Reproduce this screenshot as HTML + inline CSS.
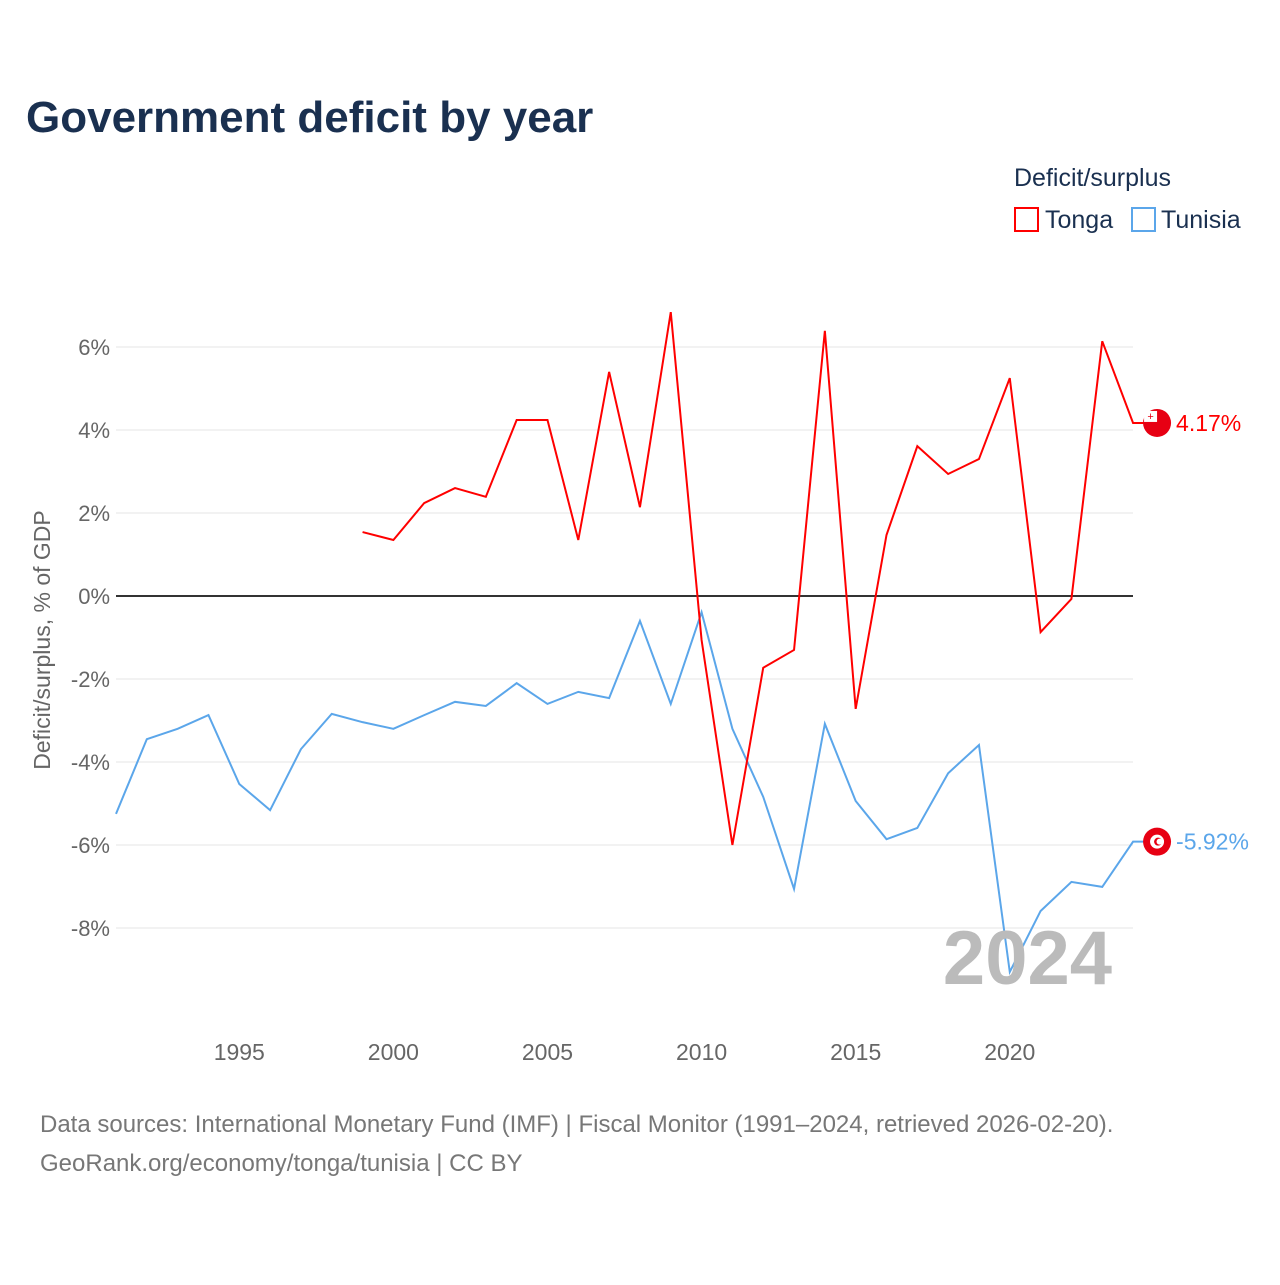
<!DOCTYPE html>
<html><head><meta charset="utf-8"><style>
body{margin:0;background:#fff;font-family:"Liberation Sans",sans-serif;}
svg text{font-family:"Liberation Sans",sans-serif;}
</style></head><body>
<svg id="chart" width="1280" height="1280" xmlns="http://www.w3.org/2000/svg">
<text x="26" y="132" font-size="44" font-weight="bold" fill="#1a3050">Government deficit by year</text>
<text x="1014" y="186" font-size="25" fill="#1a3050">Deficit/surplus</text>
<g><rect x="1015" y="208" width="23" height="23" fill="none" stroke="#f00" stroke-width="2"/><text x="1045" y="228" font-size="25" fill="#1a3050">Tonga</text></g>
<g><rect x="1132" y="208" width="23" height="23" fill="none" stroke="#5ba6ea" stroke-width="2"/><text x="1161" y="228" font-size="25" fill="#1a3050">Tunisia</text></g>
<text transform="translate(50,640) rotate(-90)" text-anchor="middle" font-size="23" fill="#666">Deficit/surplus, % of GDP</text>
<g id="grid"></g><g id="series"></g>
<text x="1112" y="984" text-anchor="end" font-size="76" font-weight="bold" fill="#bbb">2024</text>
<text x="40" y="1132" font-size="24" fill="#777">Data sources: International Monetary Fund (IMF) | Fiscal Monitor (1991–2024, retrieved 2026-02-20).</text>
<text x="40" y="1171" font-size="24" fill="#777">GeoRank.org/economy/tonga/tunisia | CC BY</text>
</svg>
<script>
const yTicks=[6,4,2,0,-2,-4,-6,-8];
const xTicks=[1995,2000,2005,2010,2015,2020];
const tungaYears=[1999,2000,2001,2002,2003,2004,2005,2006,2007,2008,2009,2010,2011,2012,2013,2014,2015,2016,2017,2018,2019,2020,2021,2022,2023,2024];
const tongaValues=[1.54,1.35,2.24,2.6,2.39,4.24,4.24,1.35,5.4,2.14,6.84,-1.06,-6.0,-1.73,-1.3,6.39,-2.72,1.47,3.61,2.94,3.3,5.25,-0.87,-0.07,6.14,4.17];
const tunisiaYears=[1991,1992,1993,1994,1995,1996,1997,1998,1999,2000,2001,2002,2003,2004,2005,2006,2007,2008,2009,2010,2011,2012,2013,2014,2015,2016,2017,2018,2019,2020,2021,2022,2023,2024];
const tunisiaValues=[-5.25,-3.45,-3.2,-2.87,-4.53,-5.16,-3.69,-2.84,-3.04,-3.2,-2.87,-2.55,-2.65,-2.1,-2.6,-2.31,-2.46,-0.6,-2.6,-0.39,-3.2,-4.84,-7.06,-3.08,-4.94,-5.86,-5.59,-4.27,-3.59,-9.06,-7.59,-6.89,-7.01,-5.92];
const X=y=>116+(y-1991)*30.82;
const Y=v=>596-v*41.5;
const NS="http://www.w3.org/2000/svg";
const grid=document.getElementById('grid'),ser=document.getElementById('series');
function mk(t,a,p){const e=document.createElementNS(NS,t);for(const k in a)e.setAttribute(k,a[k]);p.appendChild(e);return e;}
yTicks.forEach(v=>{
 const l=mk('line',{x1:116,x2:1133,y1:Y(v),y2:Y(v),stroke:v===0?'#333':'#e6e6e6','stroke-width':v===0?2:1},grid);
 
 
 const t=mk('text',{x:110,y:Y(v)+8,'text-anchor':'end','font-size':22,fill:'#666'},grid);
 t.textContent=v+'%';
 
 
});
xTicks.forEach(y=>{
 const t=mk('text',{x:X(y),y:1060,'text-anchor':'middle','font-size':23,fill:'#666'},grid);
 t.textContent=y;
 
 
});
function line(years,vals,col,name,label,flagInner){
 const lv=vals[vals.length-1],ex=X(years[years.length-1]),lx=ex+24,ly=Y(lv);
 const pts=years.map((y,i)=>X(y)+','+Y(vals[i]));
 pts.push((ex+12)+','+ly);
 const p=mk('polyline',{points:pts.join(' '),fill:'none',stroke:col,'stroke-width':2},ser);
 
 
 const c=mk('circle',{cx:lx,cy:ly,r:14,fill:'#e70013'},ser);
 
 
 if(flagInner==='tonga'){mk('rect',{x:lx-13,y:ly-12,width:13,height:11,fill:'#fff'},ser);mk('text',{x:lx-6.5,y:ly-3,'text-anchor':'middle','font-size':11,fill:'#e70013'},ser).textContent='+';}
 else{mk('circle',{cx:lx,cy:ly,r:7,fill:'#fff'},ser);mk('circle',{cx:lx+1,cy:ly,r:4,fill:'#e70013'},ser);mk('circle',{cx:lx+2.5,cy:ly,r:3,fill:'#fff'},ser);}
 const t=mk('text',{x:lx+19,y:ly+8,'font-size':23,fill:col},ser);
 t.textContent=label;
 
 
}
line(tunisiaYears,tunisiaValues,'#5ba6ea','tunisia','-5.92%','tunisia');
line(tungaYears,tongaValues,'#f00','tonga','4.17%','tonga');
</script>
</body></html>
